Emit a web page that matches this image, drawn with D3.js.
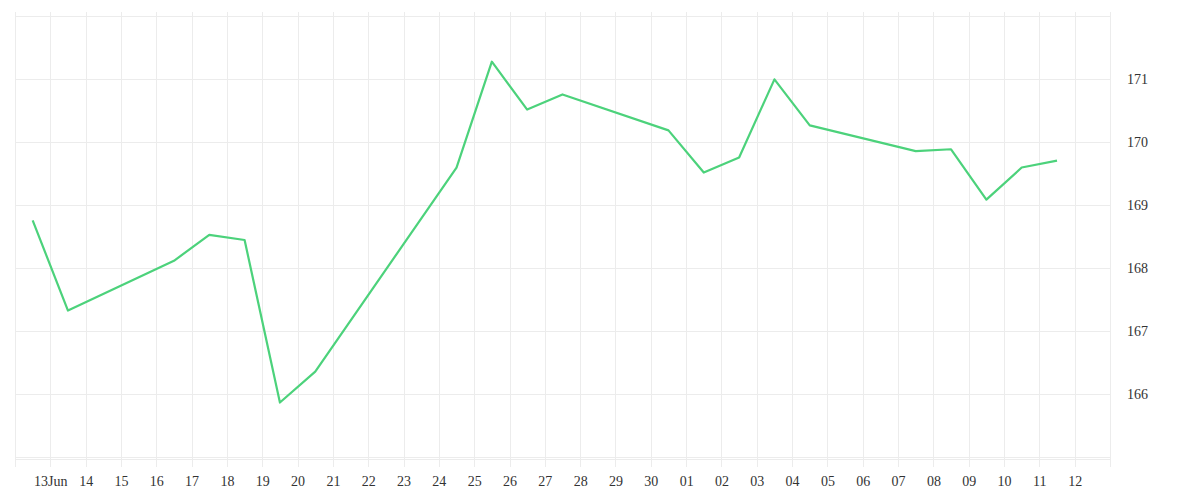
<!DOCTYPE html>
<html>
<head>
<meta charset="utf-8">
<script src="https://cdn.jsdelivr.net/npm/d3@7"></script>
<style>
  body { margin: 0; background: #fff; }
</style>
</head>
<body>
<script>
let width = 1200
let height = 500

// daily samples (taken at midday)
const dates = [
  "2023-06-12", "2023-06-13", "2023-06-16", "2023-06-17", "2023-06-18",
  "2023-06-19", "2023-06-20", "2023-06-24", "2023-06-25", "2023-06-26",
  "2023-06-27", "2023-06-30", "2023-07-01", "2023-07-02", "2023-07-03",
  "2023-07-04", "2023-07-07", "2023-07-08", "2023-07-09", "2023-07-10",
  "2023-07-11"
]
const values = [
  168.75, 167.32, 168.11, 168.52, 168.44,
  165.86, 166.35, 169.59, 171.27, 170.51,
  170.75, 170.18, 169.51, 169.75, 170.99,
  170.26, 169.85, 169.88, 169.08, 169.59,
  169.70
]
const yTicks = [166, 167, 168, 169, 170, 171]
const yGrid = [165, 166, 167, 168, 169, 170, 171, 172]

const data = dates.map((d, i) => ({ date: new Date(d + "T12:00:00Z"), value: values[i] }))

const plotLeft = 15, plotRight = 1110, plotTop = 12, plotBottom = 459
const labelFont = "Liberation Serif"

let x = d3.scaleUtc()
  .domain([new Date("2023-06-12T00:00:00Z"), new Date("2023-07-13T00:00:00Z")])
  .range([plotLeft, plotRight])

let y = d3.scaleLinear()
  .domain([165, 172])
  .range([456.7, 15.7])

let svg = d3.select("body").append("svg")
  .attr("width", width)
  .attr("height", height)

const days = d3.utcDay.range(x.domain()[0], d3.utcDay.offset(x.domain()[1], 1))

// vertical grid, running down past the axis as tick marks
svg.append("g").selectAll("line")
  .data(days).enter()
  .append("line")
  .attr("x1", d => Math.round(x(d)) + 0.5)
  .attr("x2", d => Math.round(x(d)) + 0.5)
  .attr("y1", plotTop)
  .attr("y2", 467)
  .attr("stroke", "#ececec")

// horizontal grid
svg.append("g").selectAll("line")
  .data(yGrid).enter()
  .append("line")
  .attr("x1", plotLeft)
  .attr("x2", plotRight)
  .attr("y1", d => Math.round(y(d)) + 0.5)
  .attr("y2", d => Math.round(y(d)) + 0.5)
  .attr("stroke", "#ececec")

// baseline
svg.append("line")
  .attr("x1", plotLeft).attr("x2", plotRight)
  .attr("y1", plotBottom + 0.5).attr("y2", plotBottom + 0.5)
  .attr("stroke", "#ececec")

// x labels
const fmtFirst = d3.utcFormat("%d%b")
const fmtDay = d3.utcFormat("%d")
let xAxis = d3.axisBottom(x)
  .tickValues(days.slice(1, -1))
  .tickSize(0)
  .tickPadding(0)
  .tickFormat((d, i) => i === 0 ? fmtFirst(d) : fmtDay(d))

svg.append("g")
  .attr("transform", "translate(0,476)")
  .call(xAxis)
  .attr("font-family", labelFont)
  .attr("font-size", 14)
  .call(g => g.select(".domain").remove())
  .selectAll("text")
  .attr("fill", "#333")

// y labels on the right
let yAxis = d3.axisRight(y)
  .tickValues(yTicks)
  .tickFormat(d3.format("d"))
  .tickSize(0)
  .tickPadding(0)

svg.append("g")
  .attr("transform", "translate(1127,0)")
  .call(yAxis)
  .attr("font-family", labelFont)
  .attr("font-size", 14)
  .call(g => g.select(".domain").remove())
  .selectAll("text")
  .attr("fill", "#333")

let line = d3.line()
  .x(d => x(d.date))
  .y(d => y(d.value))

svg.append("path")
  .datum(data)
  .attr("d", line)
  .attr("fill", "none")
  .attr("stroke", "#4cd27b")
  .attr("stroke-width", 2.2)
  .attr("stroke-linejoin", "round")
</script>
</body>
</html>
